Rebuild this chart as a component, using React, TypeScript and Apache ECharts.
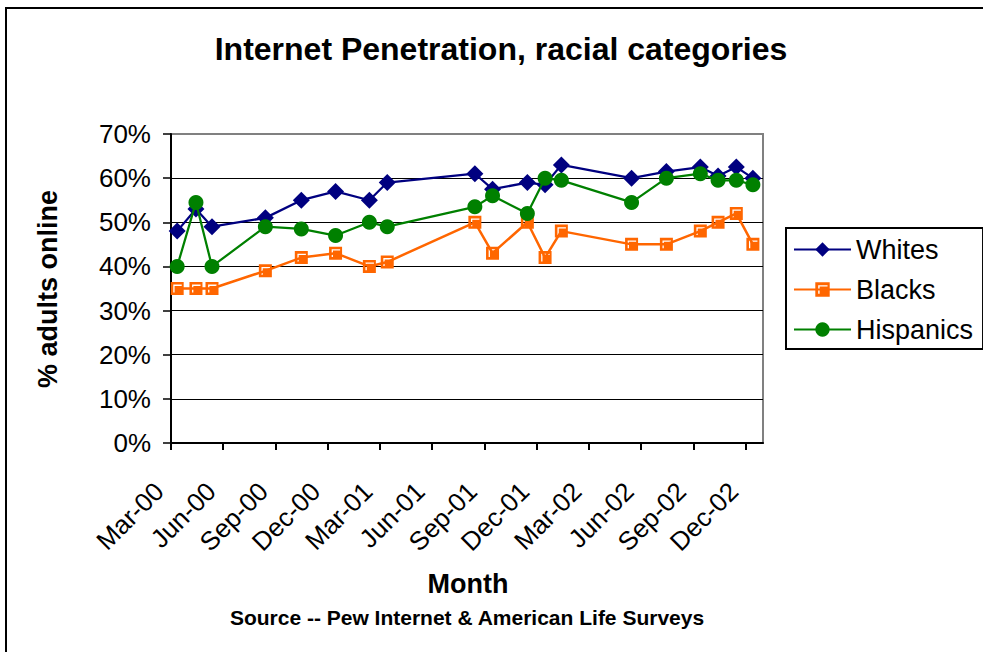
import React, { useEffect, useRef } from 'react';
import * as echarts from 'echarts';

// Survey fielding dates (approximate mid-month)
const surveyDates = [
  '2000-03-12', '2000-04-14', '2000-05-12', '2000-08-14', '2000-10-16',
  '2000-12-15', '2001-02-12', '2001-03-14', '2001-08-15', '2001-09-15',
  '2001-11-15', '2001-12-16', '2002-01-14', '2002-05-15', '2002-07-15',
  '2002-09-13', '2002-10-14', '2002-11-15', '2002-12-14',
];

// Percent of adults online in each group
const whites = [48, 53, 49, 51, 55, 57, 55, 59, 61, 57.5, 59, 58.5, 63, 60, 61.5, 62.5, 60.5, 62.5, 60];
const blacks = [35, 35, 35, 39, 42, 43, 40, 41, 50, 43, 50, 42, 48, 45, 45, 48, 50, 52, 45];
const hispanics = [40, 54.5, 40, 49, 48.5, 47, 50, 49, 53.5, 56, 52, 60, 59.5, 54.5, 60, 61, 59.5, 59.5, 58.5];

// Quarterly tick labels on the month axis
const quarterLabels = [
  'Mar-00', 'Jun-00', 'Sep-00', 'Dec-00', 'Mar-01', 'Jun-01',
  'Sep-01', 'Dec-01', 'Mar-02', 'Jun-02', 'Sep-02', 'Dec-02',
];

const FONT = '"Liberation Sans", Arial, Helvetica, sans-serif';

// Months elapsed since 1 March 2000, with the day as a fraction of its month
function monthsSinceStart(date: string): number {
  const [y, m, d] = date.split('-').map(Number);
  const daysInMonth = new Date(y, m, 0).getDate();
  return (y - 2000) * 12 + (m - 3) + (d - 1) / daysInMonth;
}

const toPoints = (values: number[]) => surveyDates.map((d, i) => [monthsSinceStart(d), values[i]]);

// Square marker with a small light bevel along its top and left edges
const bevelSquare = 'path://M0 0H100V100H0Z M20 20V80H30V30H85V20Z';

export default function App() {
  const ref = useRef<HTMLDivElement>(null);

  useEffect(() => {
    if (!ref.current) return;
    const chart = echarts.init(ref.current, null, { renderer: 'svg' });
    const tickValues = quarterLabels.map((_, i) => i * 3);

    chart.setOption({
      animation: false,
      backgroundColor: '#ffffff',
      textStyle: { fontFamily: FONT },
      grid: {
        left: 171,
        right: 220,
        top: 134,
        bottom: 209,
        show: true,
        borderColor: '#808080',
        borderWidth: 2,
        backgroundColor: 'transparent',
      },
      legend: {
        orient: 'vertical',
        left: 786,
        top: 228,
        padding: [8, 10, 6, 7],
        itemWidth: 57,
        itemHeight: 18,
        itemGap: 13,
        borderColor: '#000000',
        borderWidth: 2,
        backgroundColor: '#ffffff',
        textStyle: { fontSize: 27, color: '#000000', fontFamily: FONT, lineHeight: 27 },
        data: ['Whites', 'Blacks', 'Hispanics'],
      },
      xAxis: {
        type: 'value',
        min: 0,
        max: 34,
        axisLine: { show: true, lineStyle: { color: '#000000', width: 2 } },
        axisTick: {
          show: true,
          length: 7,
          customValues: tickValues,
          lineStyle: { color: '#000000', width: 2 },
        },
        axisLabel: {
          customValues: tickValues,
          rotate: 45,
          margin: 32,
          padding: [0, 17, 0, 0],
          fontSize: 26,
          color: '#000000',
          fontFamily: FONT,
          formatter: (v: number) => quarterLabels[Math.round(v / 3)] ?? '',
        },
        splitLine: { show: false },
      },
      yAxis: {
        type: 'value',
        min: 0,
        max: 70,
        interval: 10,
        axisLine: { show: true, lineStyle: { color: '#000000', width: 2 } },
        axisTick: { show: true, length: 8, lineStyle: { color: '#000000', width: 1.5 } },
        axisLabel: {
          margin: 20,
          fontSize: 26,
          color: '#000000',
          fontFamily: FONT,
          formatter: '{value}%',
        },
        splitLine: {
          show: true,
          showMaxLine: false,
          showMinLine: false,
          lineStyle: { color: '#000000', width: 1 },
        },
      },
      series: [
        {
          name: 'Whites',
          type: 'line',
          data: toPoints(whites),
          symbol: 'diamond',
          symbolSize: 17,
          lineStyle: { color: '#000080', width: 2.25 },
          itemStyle: { color: '#000080' },
          z: 2,
        },
        {
          name: 'Blacks',
          type: 'line',
          data: toPoints(blacks),
          symbol: bevelSquare,
          symbolSize: 13,
          lineStyle: { color: '#FF6600', width: 2.5 },
          itemStyle: { color: '#FF6600' },
          z: 3,
        },
        {
          name: 'Hispanics',
          type: 'line',
          data: toPoints(hispanics),
          symbol: 'circle',
          symbolSize: 15,
          lineStyle: { color: '#008000', width: 2.25 },
          itemStyle: { color: '#008000' },
          z: 4,
        },
      ],
      graphic: [
        {
          type: 'rect',
          shape: { x: 6, y: 8, width: 1100, height: 800 },
          style: { fill: 'none', stroke: '#000000', lineWidth: 2 },
          silent: true,
        },
        {
          type: 'text',
          x: 501,
          y: 49,
          style: {
            text: 'Internet Penetration, racial categories',
            font: `bold 32px ${FONT}`,
            fill: '#000000',
            align: 'center',
            verticalAlign: 'middle',
          },
        },
        {
          type: 'text',
          x: 48,
          y: 289,
          rotation: Math.PI / 2,
          style: {
            text: '% adults online',
            font: `bold 27px ${FONT}`,
            fill: '#000000',
            align: 'center',
            verticalAlign: 'middle',
          },
        },
        {
          type: 'text',
          x: 468,
          y: 584,
          style: {
            text: 'Month',
            font: `bold 27px ${FONT}`,
            fill: '#000000',
            align: 'center',
            verticalAlign: 'middle',
          },
        },
        {
          type: 'text',
          x: 467,
          y: 617,
          style: {
            text: 'Source -- Pew Internet & American Life Surveys',
            font: `bold 21px ${FONT}`,
            fill: '#000000',
            align: 'center',
            verticalAlign: 'middle',
          },
        },
      ],
    });

    return () => chart.dispose();
  }, []);

  return (
    <div
      ref={ref}
      style={{ position: 'absolute', left: 0, top: 0, width: 983, height: 652, background: '#ffffff' }}
    />
  );
}
